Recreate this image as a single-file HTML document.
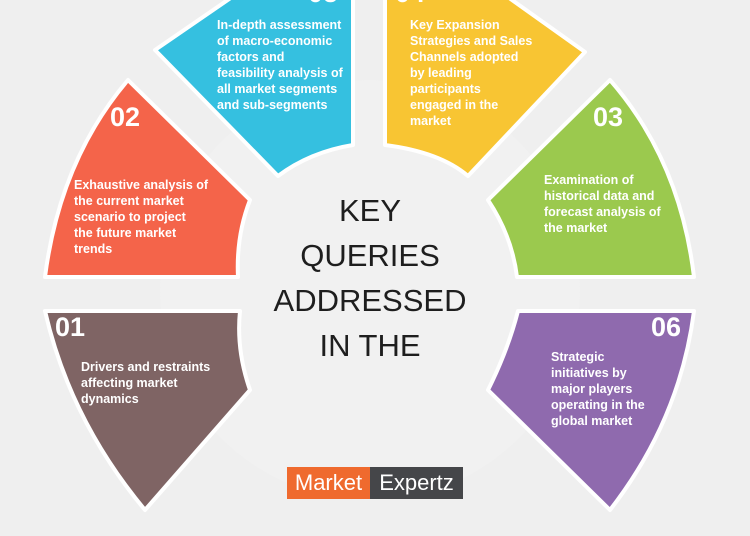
<!DOCTYPE html>
<html><head><style>
body{margin:0;width:750px;height:536px;overflow:hidden;background:#efefef;font-family:"Liberation Sans",sans-serif;}
svg{position:absolute;left:0;top:0}
.t{position:absolute;color:#fff;font-weight:bold;font-size:12.5px;line-height:16px;}
.n{position:absolute;color:#fff;font-weight:bold;font-size:27px;}
.c{position:absolute;left:250px;width:240px;text-align:center;font-size:31px;color:#1e1e1e;line-height:45px;top:188px}
</style></head><body>
<svg width="750" height="536">
<circle cx="370" cy="290" r="210" fill="#f1f1f1"/>
<g stroke="#fff" stroke-width="4" stroke-linejoin="round">
<path d="M128,80 L250,200 Q236,236 238,277 L45,277 Q60,160 128,80Z" fill="#f4644a"/>
<path d="M155,50 L235,-5 L353,-5 L353,145 Q310,152 278,176 Z" fill="#35c0e0"/>
<path d="M385,-5 L505,-5 L585,52 L468,176 Q440,152 385,145Z" fill="#f8c533"/>
<path d="M610,80 Q680,160 694,277 L517,277 Q512,236 488,200Z" fill="#9bc94e"/>
<path d="M45,311 L240,311 Q236,350 250,390 L145,510 Q70,420 45,311Z" fill="#7f6464"/>
<path d="M518,311 L694,311 Q680,420 610,510 L488,390 Q508,350 518,311Z" fill="#8f6aae"/>
</g>
</svg>
<div class="n" style="left:110px;top:102px">02</div>
<div class="n" style="left:593px;top:102px">03</div>
<div class="n" style="left:55px;top:312px">01</div>
<div class="n" style="left:651px;top:312px">06</div>
<div class="n" style="left:308px;top:-22px">05</div>
<div class="n" style="left:395px;top:-22px">04</div>
<div class="t" style="left:217px;top:17px">In-depth assessment<br>of macro-economic<br>factors and<br>feasibility analysis of<br>all market segments<br>and sub-segments</div>
<div class="t" style="left:410px;top:17px">Key Expansion<br>Strategies and Sales<br>Channels adopted<br>by leading<br>participants<br>engaged in the<br>market</div>
<div class="t" style="left:74px;top:177px">Exhaustive analysis of<br>the current market<br>scenario to project<br>the future market<br>trends</div>
<div class="t" style="left:544px;top:172px">Examination of<br>historical data and<br>forecast analysis of<br>the market</div>
<div class="t" style="left:81px;top:359px">Drivers and restraints<br>affecting market<br>dynamics</div>
<div class="t" style="left:551px;top:349px">Strategic<br>initiatives by<br>major players<br>operating in the<br>global market</div>
<div class="c">KEY<br>QUERIES<br>ADDRESSED<br>IN THE</div>
<div style="position:absolute;left:287px;top:467px;width:83px;height:32px;background:#ef6a2e;color:#fff;font-size:22px;line-height:32px;text-align:center">Market</div>
<div style="position:absolute;left:370px;top:467px;width:93px;height:32px;background:#454649;color:#fff;font-size:22px;line-height:32px;text-align:center">Expertz</div>
</body></html>
